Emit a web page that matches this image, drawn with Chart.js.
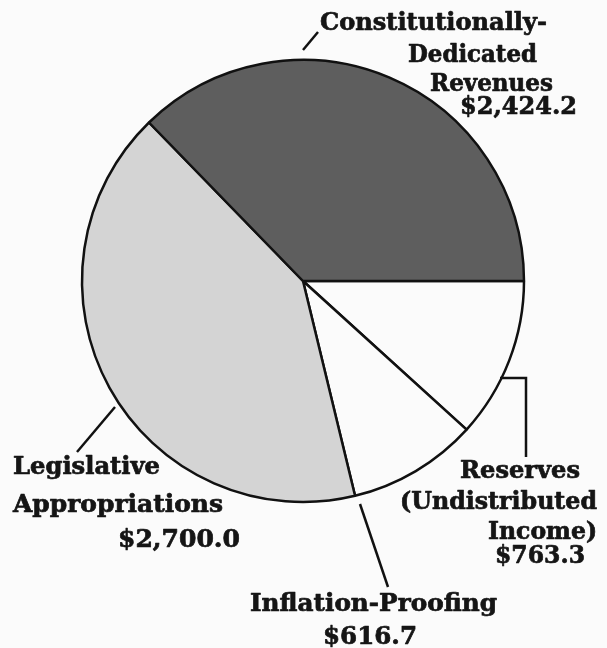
<!DOCTYPE html>
<html>
<head>
<meta charset="utf-8">
<script src="https://cdn.jsdelivr.net/npm/chart.js@4.4.0/dist/chart.umd.min.js"></script>
<style>
  html, body { margin: 0; padding: 0; background: #fbfbfb; }
  #c { display: block; }
</style>
</head>
<body>
<canvas id="c" width="607" height="648"></canvas>
<script>
// ---- Data (millions of dollars) ----
const categories = [
  "Reserves (Undistributed Income)",
  "Inflation-Proofing",
  "Legislative Appropriations",
  "Constitutionally-Dedicated Revenues"
];
const values = [763.3, 616.7, 2700.0, 2424.2];
const valueLabels = ["$763.3", "$616.7", "$2,700.0", "$2,424.2"];
const sliceColors = ["#fbfbfb", "#fbfbfb", "#d4d4d4", "#5e5e5e"];

// ---- Label layout (annotation styling only) ----
const labelLines = [
  // Constitutionally-Dedicated Revenues
  { t: "Constitutionally-", x: 320, y: 30, w: 227 },
  { t: "Dedicated", x: 408, y: 62, w: 129 },
  { t: "Revenues", x: 430, y: 91, w: 123 },
  { t: valueLabels[3], x: 460, y: 114, w: 117 },
  // Reserves
  { t: "Reserves", x: 460, y: 478, w: 120 },
  { t: "(Undistributed", x: 400, y: 509, w: 197 },
  { t: "Income)", x: 488, y: 539, w: 109 },
  { t: valueLabels[0], x: 495, y: 563, w: 90 },
  // Legislative
  { t: "Legislative", x: 13, y: 474, w: 147 },
  { t: "Appropriations", x: 13, y: 512, w: 210 },
  { t: valueLabels[2], x: 118, y: 547, w: 122 },
  // Inflation
  { t: "Inflation-Proofing", x: 250, y: 611, w: 247 },
  { t: valueLabels[1], x: 323, y: 644, w: 94 }
];
const leaderLines = [
  [[303, 50], [318, 32]],
  [[500, 378], [526, 378], [526, 457]],
  [[360, 504], [388, 587]],
  [[115, 407], [77, 452]]
];

const labelPlugin = {
  id: "labels",
  afterDraw(chart) {
    const ctx = chart.ctx;
    ctx.save();
    ctx.strokeStyle = "#111";
    ctx.lineWidth = 2.5;
    leaderLines.forEach(pts => {
      ctx.beginPath();
      ctx.moveTo(pts[0][0], pts[0][1]);
      for (let i = 1; i < pts.length; i++) ctx.lineTo(pts[i][0], pts[i][1]);
      ctx.stroke();
    });
    ctx.fillStyle = "#151515";
    ctx.strokeStyle = "#151515";
    ctx.lineWidth = 0.7;
    ctx.lineJoin = "round";
    ctx.font = "bold 24px 'DejaVu Serif'";
    ctx.textAlign = "left";
    ctx.textBaseline = "alphabetic";
    labelLines.forEach(l => {
      const m = ctx.measureText(l.t).width;
      const s = l.w / m;
      ctx.save();
      ctx.translate(l.x, l.y);
      ctx.scale(s, 1);
      ctx.fillText(l.t, 0, 0);
      ctx.strokeText(l.t, 0, 0);
      ctx.restore();
    });
    ctx.restore();
  }
};

new Chart(document.getElementById("c"), {
  type: "pie",
  data: {
    labels: categories,
    datasets: [{
      data: values,
      backgroundColor: sliceColors,
      borderColor: "#111",
      borderWidth: 2.5,
      radius: 221
    }]
  },
  options: {
    responsive: false,
    animation: false,
    rotation: 90,
    layout: { padding: { left: 80, right: 81, top: 50, bottom: 136 } },
    plugins: {
      legend: { display: false },
      tooltip: { enabled: false }
    }
  },
  plugins: [labelPlugin]
});
</script>
</body>
</html>
